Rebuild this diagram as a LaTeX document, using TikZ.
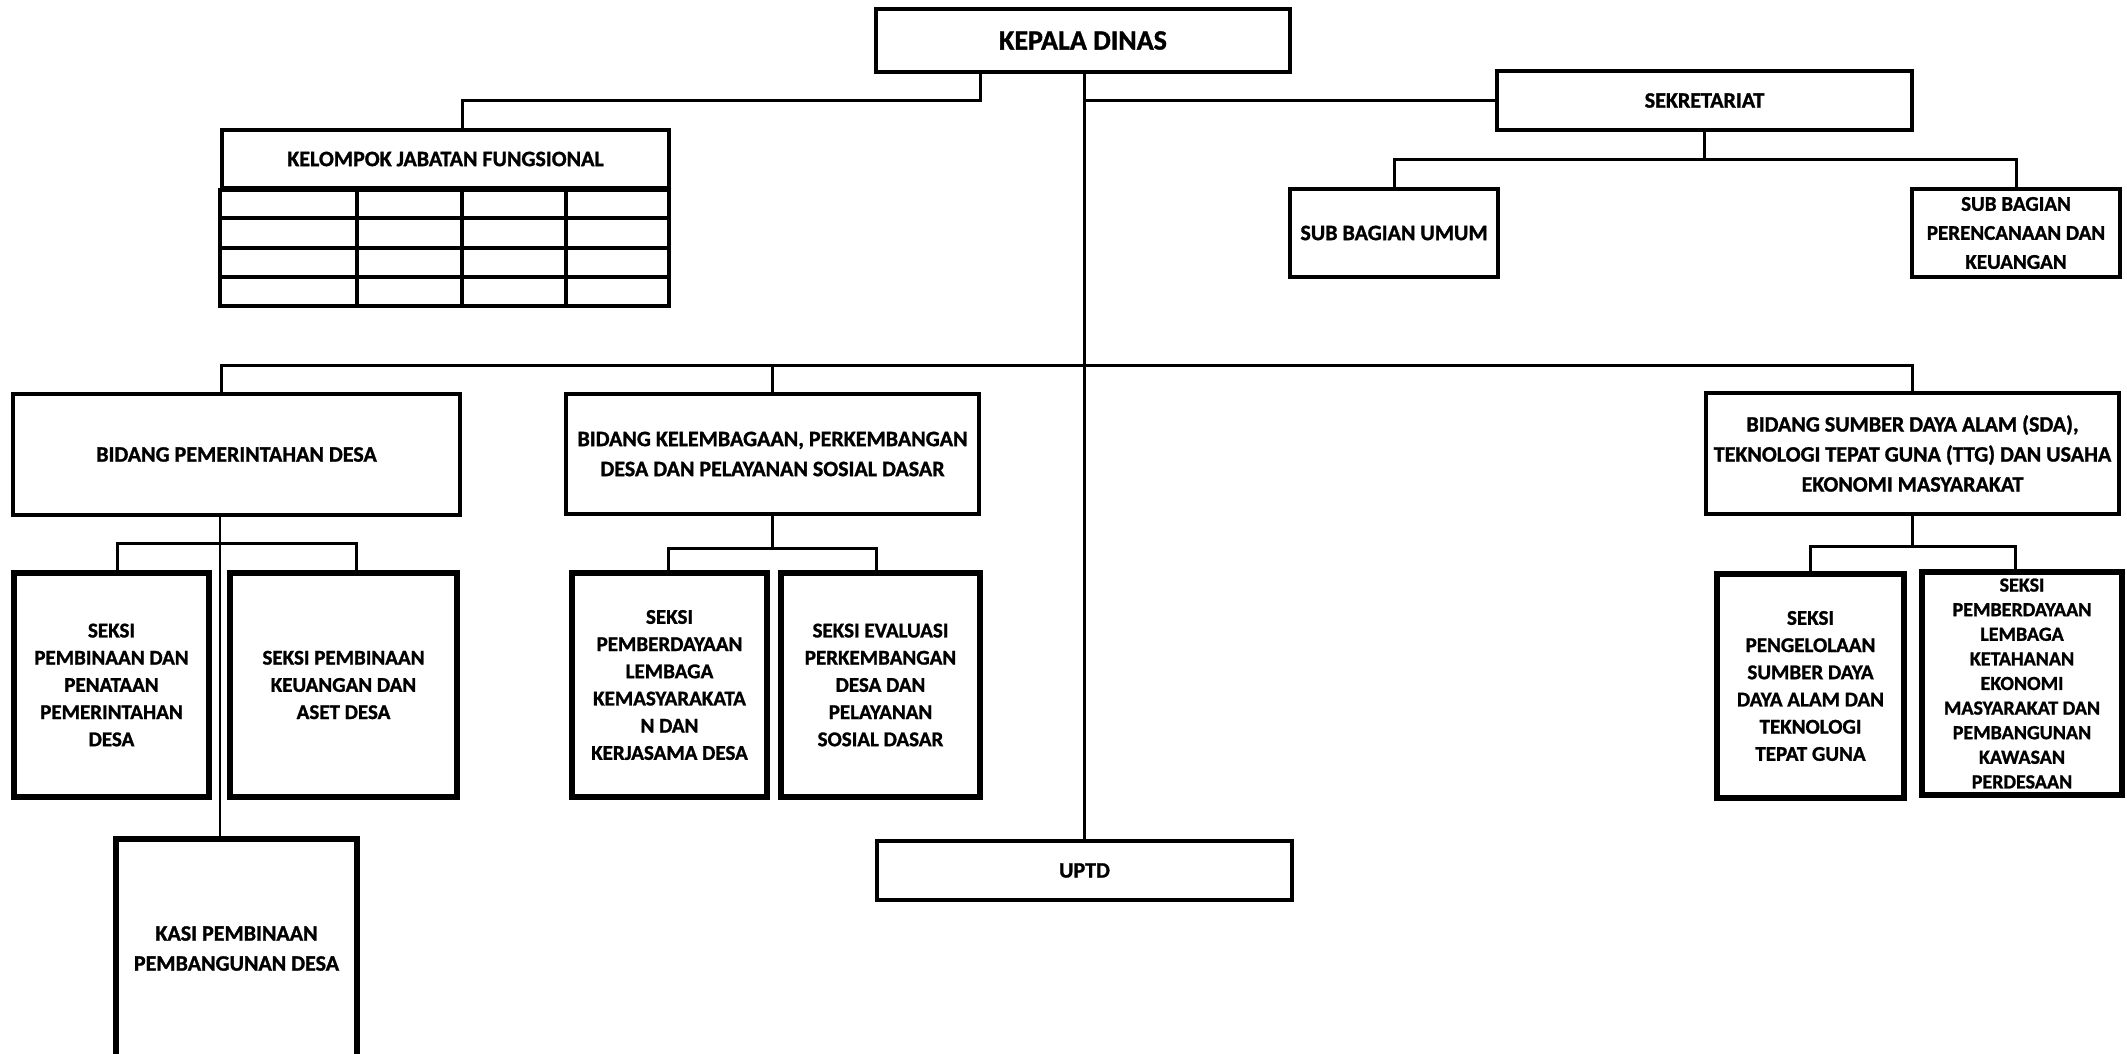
\documentclass[tikz,border=0pt]{standalone}
\usepackage{fontspec}
\setmainfont{Carlito}[BoldFeatures={FakeBold=1.2}]
% box given by its corners (x1,y1)-(x2,y2), one unit = one pixel, y downwards
\newcommand\orgbox[7][]{%
  \node[box,#1,minimum width={0.5*(#5-#3)},minimum height={0.5*(#6-#4)}]
    (#2) at ({(#3+#5)/2},{(#4+#6)/2}) {#7};}
\begin{document}
\begin{tikzpicture}[x=0.5pt,y=-0.5pt,
  box/.style={draw,line width=2pt,inner sep=0pt,align=center,
    font=\bfseries\fontsize{11}{15}\selectfont},
  seksi/.style={line width=2.6pt,font=\bfseries\fontsize{10.5}{13.6}\selectfont},
  conn/.style={line width=1.5pt},
  thinconn/.style={line width=1pt},
  grid/.style={line width=1.8pt}]
\useasboundingbox (0,0) rectangle (2127,1054);
\clip (0,0) rectangle (2127,1054);
\fill[white] (0,0) rectangle (2127,1054);

% top level
\orgbox[font=\bfseries\fontsize{14}{17}\selectfont]{kepala}{876}{9}{1290}{72}{KEPALA DINAS}
\orgbox{sek}{1497}{71}{1912}{130}{SEKRETARIAT}
\orgbox{sbu}{1290}{189}{1498}{277}{SUB BAGIAN UMUM}
\orgbox[font=\bfseries\fontsize{10.5}{14.5}\selectfont]{sbp}{1912}{189}{2120}{277}{SUB BAGIAN\\PERENCANAAN DAN\\KEUANGAN}

% functional group with its empty grid
\orgbox[line width=1.8pt]{kjf}{222}{130}{669}{188}{KELOMPOK JABATAN FUNGSIONAL}
\draw[grid] (kjf.south west) rectangle (669,306);
\foreach \yy in {218,248,277} \draw[grid] (222,\yy) -- (669,\yy);
\foreach \xx in {357,462,566} \draw[grid] (\xx,188) -- (\xx,306);

% fields
\orgbox{bpd}{13}{394}{460}{515}{BIDANG PEMERINTAHAN DESA}
\orgbox{bkel}{566}{394}{979}{514}{BIDANG KELEMBAGAAN, PERKEMBANGAN\\DESA DAN PELAYANAN SOSIAL DASAR}
\orgbox{bsda}{1706}{393}{2119}{514}{BIDANG SUMBER DAYA ALAM (SDA),\\TEKNOLOGI TEPAT GUNA (TTG) DAN USAHA\\EKONOMI MASYARAKAT}

% sections
\orgbox[seksi]{s1}{14}{573}{209}{797}{SEKSI\\PEMBINAAN DAN\\PENATAAN\\PEMERINTAHAN\\DESA}
\orgbox[seksi]{s2}{230}{573}{457}{797}{SEKSI PEMBINAAN\\KEUANGAN DAN\\ASET DESA}
\orgbox[seksi]{s3}{572}{573}{767}{797}{SEKSI\\PEMBERDAYAAN\\LEMBAGA\\KEMASYARAKATA\\N DAN\\KERJASAMA DESA}
\orgbox[seksi]{s4}{781}{573}{980}{797}{SEKSI EVALUASI\\PERKEMBANGAN\\DESA DAN\\PELAYANAN\\SOSIAL DASAR}
\orgbox[seksi]{s5}{1717}{574}{1904}{798}{SEKSI\\PENGELOLAAN\\SUMBER DAYA\\DAYA ALAM DAN\\TEKNOLOGI\\TEPAT GUNA}
\orgbox[seksi,font=\bfseries\fontsize{10}{12.3}\selectfont]{s6}{1922}{572}{2122}{795}{SEKSI\\PEMBERDAYAAN\\LEMBAGA\\KETAHANAN\\EKONOMI\\MASYARAKAT DAN\\PEMBANGUNAN\\KAWASAN\\PERDESAAN}

\orgbox[seksi,font=\bfseries\fontsize{11}{15}\selectfont]{kasi}{116}{839}{357}{1058}{KASI PEMBINAAN\\PEMBANGUNAN DESA}
\orgbox{uptd}{877}{841}{1292}{900}{UPTD}

% connectors
\draw[conn] (kepala.south -| uptd.north) -- (uptd.north);
\draw[conn] (980,0 |- kepala.south) |- (462,101) -- (462,0 |- kjf.north);
\draw[conn] (sek.west -| uptd.north) -- (sek.west);
\draw[conn] (sek.south) -- ++(0,28) coordinate (sekbus);
\draw[conn] (sbu.north) |- (sekbus) -| (sbp.north);

\coordinate (busL) at (221,365);
\draw[conn] (busL |- bpd.north) -- (busL) -| (bsda.north);
\draw[conn] (bkel.north) -- (bkel.north |- busL);

\draw[conn] (117,0 |- s1.north) |- (356,543) -- (356,0 |- s2.north);
\draw[thinconn] (220,0 |- bpd.south) -- (220,0 |- kasi.north);

\draw[conn] (bkel.south) -- ++(0,32) coordinate (kelbus);
\draw[conn] (668,0 |- s3.north) |- (kelbus) -| (876,0 |- s4.north);

\draw[conn] (bsda.south) -- ++(0,30) coordinate (sdabus);
\draw[conn] (1810,0 |- s5.north) |- (sdabus) -| (2015,0 |- s6.north);
\end{tikzpicture}
\end{document}
